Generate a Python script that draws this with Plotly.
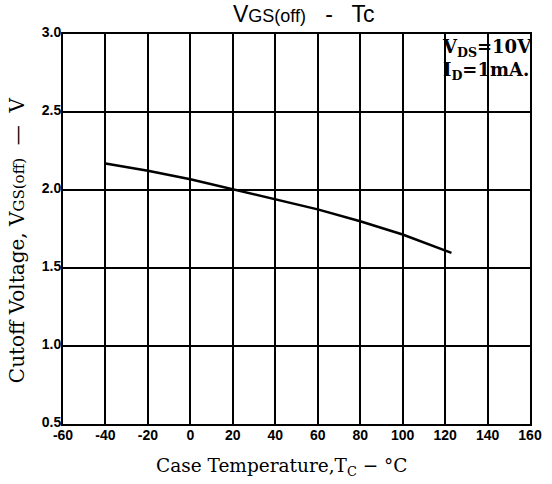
import plotly.graph_objects as go

# Data
temp_c = [-40, -20, 0, 20, 40, 60, 80, 100, 123]
vgs_off = [2.17, 2.124, 2.069, 2.006, 1.942, 1.876, 1.80, 1.715, 1.597]

x_ticks = [-60, -40, -20, 0, 20, 40, 60, 80, 100, 120, 140, 160]
y_ticks = [0.5, 1.0, 1.5, 2.0, 2.5, 3.0]

fig = go.Figure()
fig.add_trace(go.Scatter(x=temp_c, y=vgs_off, mode="lines",
                         line=dict(color="black", width=2.5),
                         showlegend=False, hoverinfo="skip"))

tick_font = dict(family="Liberation Sans", size=14, color="black", weight="bold")
fig.update_xaxes(range=[-60, 160], tickmode="array", tickvals=x_ticks,
                 ticktext=[str(v) for v in x_ticks],
                 showgrid=True, gridcolor="black", gridwidth=2,
                 showline=True, linecolor="black", linewidth=2, mirror=True,
                 ticks="", tickfont=tick_font, zeroline=False, ticklabelstandoff=-3)
fig.update_yaxes(range=[0.5, 3.0], tickmode="array", tickvals=y_ticks,
                 ticktext=[f"{v:.1f}" for v in y_ticks],
                 showgrid=True, gridcolor="black", gridwidth=2,
                 showline=True, linecolor="black", linewidth=2, mirror=True,
                 ticks="", tickfont=tick_font, zeroline=False,
                 ticklabelstandoff=-3, ticklabelshift=-2)

# chart title
fig.add_annotation(xref="paper", yref="paper", x=0.516, y=1.0,
                   xanchor="center", yanchor="bottom", yshift=6, showarrow=False,
                   borderpad=0,
                   text="V<span style='font-size:18px'>GS(off)</span>   -   Tc",
                   font=dict(family="Liberation Sans", size=23, color="black"))

fig.add_annotation(xref="paper", yref="paper", x=-0.098, y=0.472,
                   xanchor="center", yanchor="middle", textangle=-90, showarrow=False,
                   borderpad=0,
                   text="Cutoff Voltage, V<span style='font-size:15px'>GS(off)</span>  —  V",
                   font=dict(family="DejaVu Serif", size=20, color="black"))
fig.add_annotation(xref="paper", yref="paper", x=0.47, y=-0.075,
                   xanchor="center", yanchor="top", showarrow=False,
                   text="Case Temperature,T<sub>C</sub> − °C",
                   font=dict(family="DejaVu Serif", size=18.5, color="black"))

fig.add_annotation(xref="paper", yref="paper", x=1.008, y=1.0,
                   xanchor="right", yanchor="top", align="left", showarrow=False,
                   text="<b>V<sub>DS</sub>=10V<br>I<sub>D</sub>=1mA.</b>",
                   font=dict(family="DejaVu Serif", size=18, color="black"))

fig.update_layout(
    width=552, height=484,
    margin=dict(l=63, r=10, t=34, b=60),
    paper_bgcolor="white", plot_bgcolor="white",
)

fig.write_html("out.html", config={"staticPlot": True, "displayModeBar": False},
               post_script=("document.body.style.margin='0px';"
                            "document.body.style.overflow='hidden';"
                            "document.documentElement.style.overflow='hidden';"))
